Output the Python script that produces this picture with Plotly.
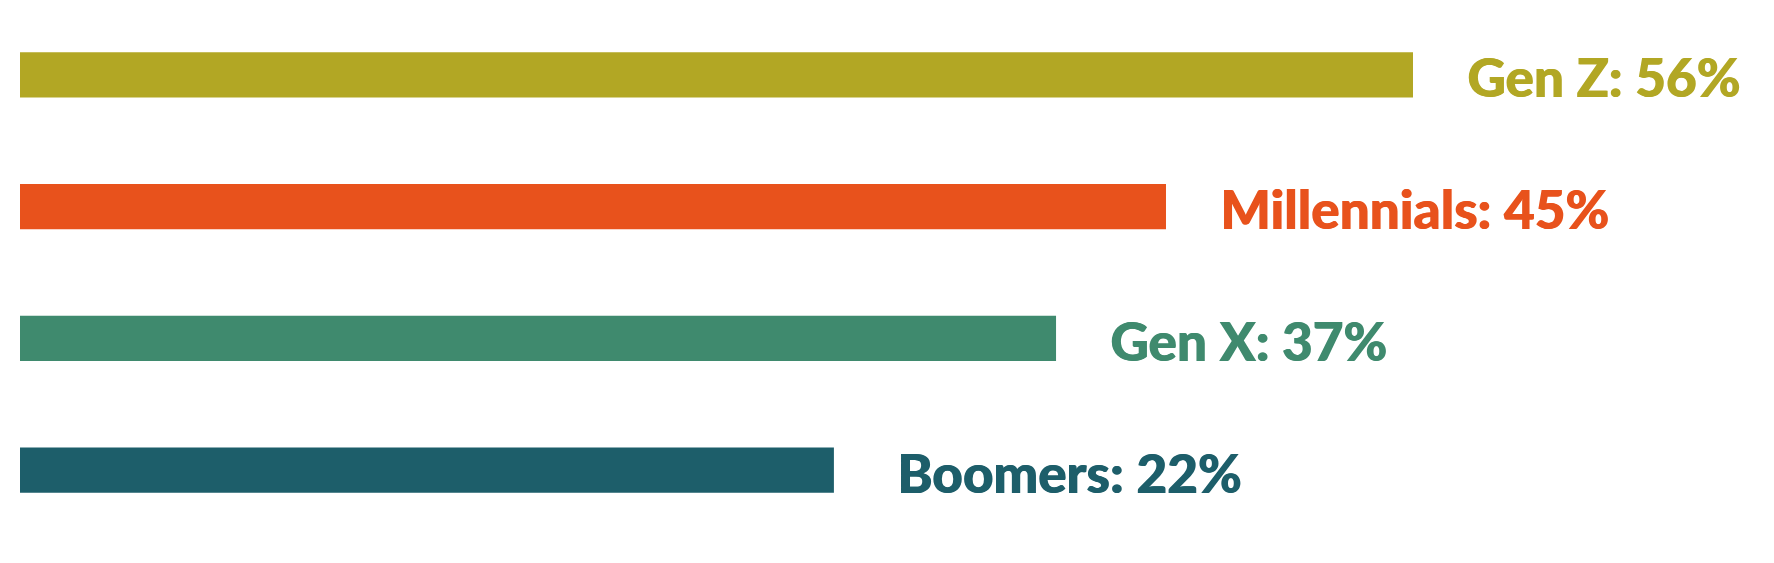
import plotly.graph_objects as go

# Data
generations = ["Gen Z", "Millennials", "Gen X", "Boomers"]
percent_labels = [56, 45, 37, 22]            # values printed in labels
bar_lengths = [56.0, 46.07, 41.65, 32.72]     # bar lengths as drawn (in % units)
colors = ["#B2A724", "#E8521C", "#3F8A6E", "#1D5E6A"]
label_gaps = [52, 52, 52, 61]                 # pixel gap between bar end and label

PX_PER_UNIT = 24.875

fig = go.Figure()
fig.add_trace(go.Bar(
    x=bar_lengths,
    y=generations,
    orientation="h",
    marker=dict(color=colors, line=dict(width=0)),
    width=0.345,
    hoverinfo="skip",
    showlegend=False,
))

for g, v, p, c, gap in zip(generations, bar_lengths, percent_labels, colors, label_gaps):
    fig.add_annotation(
        x=v, y=g, xref="x", yref="y",
        text=f"{g}: {p}%",
        showarrow=False,
        xanchor="left", yanchor="middle",
        xshift=gap, yshift=-2,
        font=dict(family="Lato", size=53, color=c, weight=900,
                  shadow=f"1px 0px 0px {c}"),
    )

fig.update_layout(
    width=1774, height=563,
    margin=dict(l=12, r=0, t=0.5, b=34.5),
    paper_bgcolor="white", plot_bgcolor="white",
    xaxis=dict(range=[0, 1762 / PX_PER_UNIT], visible=False, fixedrange=True),
    yaxis=dict(categoryorder="array", categoryarray=generations,
               autorange="reversed", visible=False, fixedrange=True),
)

fig.write_html("out.html")
